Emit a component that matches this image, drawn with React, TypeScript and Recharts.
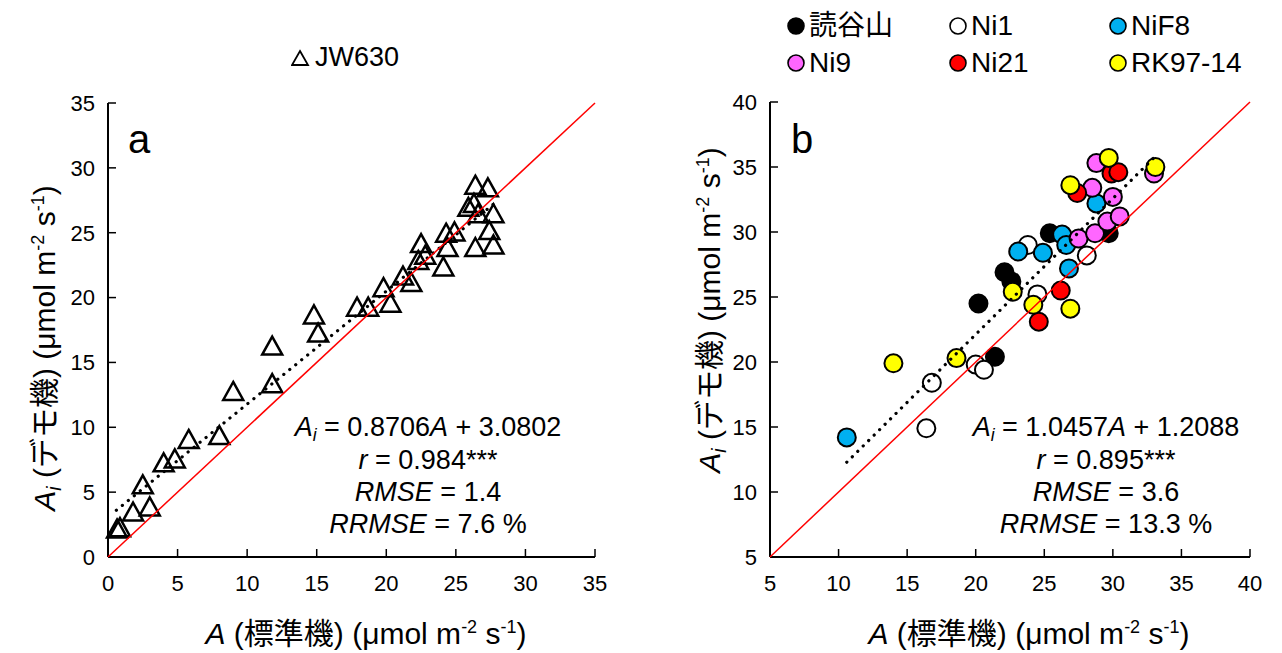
import React from "react";
import { Scatter, ScatterChart, XAxis, YAxis } from "recharts";

const FONT = "Arial, 'Liberation Sans', 'Noto Sans CJK JP', sans-serif";

// panel a: JW630 (標準機 A vs デモ機 Ai)
const jwA = [0.65, 0.86, 1.8, 3.0, 2.5, 4.0, 4.8, 5.8, 8.0, 9.0, 11.8, 11.8, 14.8, 15.1, 17.9, 18.7, 19.8, 20.3, 21.2, 21.8, 22.3, 22.5, 22.8, 24.1, 24.3, 24.9, 24.4, 26.4, 27.4, 27.7, 25.9, 26.3, 26.6, 27.7, 26.4, 27.3];
const jwAi = [2.2, 2.3, 3.5, 3.9, 5.6, 7.3, 7.6, 9.1, 9.4, 12.8, 16.3, 13.4, 18.7, 17.3, 19.3, 19.3, 20.8, 19.6, 21.7, 21.2, 22.9, 24.2, 23.3, 22.4, 25.0, 25.1, 23.9, 23.9, 25.2, 24.1, 27.0, 27.3, 26.5, 26.5, 28.7, 28.5];

// panel b: varieties
const yomitanA = [20.2, 22.1, 22.6, 21.4, 25.4, 29.7];
const yomitanAi = [24.5, 26.9, 26.2, 20.4, 29.9, 29.9];
const ni1A = [16.4, 16.8, 20.0, 20.6, 23.8, 24.5, 28.1];
const ni1Ai = [14.9, 18.4, 19.8, 19.4, 29.0, 25.2, 28.2];
const nif8A = [10.6, 23.1, 24.9, 26.3, 26.6, 26.8, 28.8];
const nif8Ai = [14.2, 28.5, 28.4, 29.8, 29.0, 27.2, 32.2];
const ni9A = [27.5, 28.7, 29.6, 30.5, 30.0, 28.5, 28.8, 33.0];
const ni9Ai = [29.5, 29.9, 30.8, 31.2, 32.7, 33.4, 35.3, 34.5];
const ni21A = [24.6, 26.2, 27.4, 29.9, 30.4];
const ni21Ai = [23.1, 25.5, 33.0, 34.5, 34.6];
const rkA = [14.0, 18.6, 22.7, 24.2, 26.9, 26.9, 29.7, 33.1];
const rkAi = [19.9, 20.3, 25.4, 24.4, 24.1, 33.6, 35.7, 35.0];

const ticksA = [0, 5, 10, 15, 20, 25, 30, 35];
const ticksB = [5, 10, 15, 20, 25, 30, 35, 40];

// regression fits as printed on the chart
const fitA = { slope: 0.8706, intercept: 3.0802, from: 0.6, to: 27.7 };
const fitB = { slope: 1.0457, intercept: 1.2088, from: 10.6, to: 33.1 };

const zip = (xs: number[], ys: number[]) => xs.map((x, i) => ({ x, y: ys[i] }));
const fitLine = (f: typeof fitA) => [f.from, f.to].map((x) => ({ x, y: f.slope * x + f.intercept }));

const seriesB = [
  { name: "読谷山", fill: "#000000", data: zip(yomitanA, yomitanAi) },
  { name: "Ni1", fill: "#ffffff", data: zip(ni1A, ni1Ai) },
  { name: "NiF8", fill: "#00b0f0", data: zip(nif8A, nif8Ai) },
  { name: "Ni9", fill: "#ff66ff", data: zip(ni9A, ni9Ai) },
  { name: "Ni21", fill: "#ff0000", data: zip(ni21A, ni21Ai) },
  { name: "RK97-14", fill: "#ffff00", data: zip(rkA, rkAi) },
];

const Triangle = (props: any) => {
  const { cx, cy } = props;
  const w = 20;
  const h = 18;
  return (
    <polygon
      points={`${cx},${cy - h / 2} ${cx + w / 2},${cy + h / 2} ${cx - w / 2},${cy + h / 2}`}
      fill="none"
      stroke="#000"
      strokeWidth={2.5}
    />
  );
};

const dot = (fill: string) => (props: any) => <circle cx={props.cx} cy={props.cy} r={9} fill={fill} stroke="#000" strokeWidth={2} />;
const none = () => <g />;

const tickStyle = { fill: "#000", fontSize: 22, fontFamily: FONT };
const dotted = { stroke: "#000", strokeWidth: 3.2, strokeDasharray: "0.1 7.6", strokeLinecap: "round" as const };

function Axes({ ticks }: { ticks: number[] }) {
  const domain = [ticks[0], ticks[ticks.length - 1]];
  return (
    <>
      <XAxis type="number" dataKey="x" domain={domain} ticks={ticks} interval={0} height={30} tick={tickStyle}
        axisLine={{ stroke: "#000", strokeWidth: 2 }} tickLine={{ stroke: "#000", strokeWidth: 1.5 }} tickSize={-8} tickMargin={26} />
      <YAxis type="number" dataKey="y" domain={domain} ticks={ticks} interval={0} width={60} tick={tickStyle}
        axisLine={{ stroke: "#000", strokeWidth: 2 }} tickLine={{ stroke: "#000", strokeWidth: 1.5 }} tickSize={-8} tickMargin={21} />
    </>
  );
}

const Txt = ({ x, y, size = 27, rotate = 0, children }: { x: number; y: number; size?: number; rotate?: number; children: React.ReactNode }) => (
  <div
    style={{
      position: "absolute", left: x, top: y, transform: `translate(-50%, -50%) rotate(${rotate}deg)`,
      fontSize: size, fontFamily: FONT, whiteSpace: "nowrap", lineHeight: 1, color: "#000",
    }}
  >
    {children}
  </div>
);

const sup = (t: string) => <sup style={{ fontSize: "0.6em", verticalAlign: "0.6em", lineHeight: 0 }}>{t}</sup>;
const Ai = () => <><i>A</i><sub style={{ fontSize: "0.65em", verticalAlign: "-0.3em", lineHeight: 0 }}><i>i</i></sub></>;
const unit = <>(μmol m{sup("-2")} s{sup("-1")})</>;

function Stats({ x, slope, icpt, r, rmse, rrmse }: { x: number; slope: string; icpt: string; r: string; rmse: string; rrmse: string }) {
  return (
    <>
      <Txt x={x} y={427}><Ai /> = {slope}<i>A</i> + {icpt}</Txt>
      <Txt x={x} y={460}><i>r</i> = {r}***</Txt>
      <Txt x={x} y={492}><i>RMSE</i> = {rmse}</Txt>
      <Txt x={x} y={524}><i>RRMSE</i> = {rrmse} %</Txt>
    </>
  );
}

function LegendItem({ x, y, fill, label }: { x: number; y: number; fill: string; label: string }) {
  return (
    <div style={{ position: "absolute", left: x - 9, top: y - 14, display: "flex", alignItems: "center", fontFamily: FONT, fontSize: 28, lineHeight: 1 }}>
      <svg width={18} height={18} style={{ marginRight: 4 }}>
        <circle cx={9} cy={9} r={8} fill={fill} stroke="#000" strokeWidth={1.6} />
      </svg>
      <span>{label}</span>
    </div>
  );
}

export default function App() {
  const legendCols = [796, 958, 1118];
  const legendRows = [26, 63];
  return (
    <div style={{ position: "absolute", left: 0, top: 0, width: 1282, height: 653, background: "#fff", overflow: "hidden" }}>
      <div style={{ position: "absolute", left: 0, top: 0 }}>
        <ScatterChart width={640} height={653} margin={{ top: 103, right: 45, bottom: 66, left: 48 }}>
          {Axes({ ticks: ticksA })}
          <Scatter data={zip(jwA, jwAi)} shape={Triangle} isAnimationActive={false} />
          <Scatter data={fitLine(fitA)} line={dotted} shape={none} isAnimationActive={false} />
          <Scatter data={[{ x: 0, y: 0 }, { x: 35, y: 35 }]} line={{ stroke: "#ff0000", strokeWidth: 1.5 }} shape={none} isAnimationActive={false} />
        </ScatterChart>
      </div>
      <div style={{ position: "absolute", left: 640, top: 0 }}>
        <ScatterChart width={642} height={653} margin={{ top: 102, right: 32, bottom: 66, left: 70 }}>
          {Axes({ ticks: ticksB })}
          {seriesB.map((s) => (
            <Scatter key={s.name} name={s.name} data={s.data} shape={dot(s.fill)} isAnimationActive={false} />
          ))}
          <Scatter data={fitLine(fitB)} line={dotted} shape={none} isAnimationActive={false} />
          <Scatter data={[{ x: 5, y: 5 }, { x: 40, y: 40 }]} line={{ stroke: "#ff0000", strokeWidth: 1.5 }} shape={none} isAnimationActive={false} />
        </ScatterChart>
      </div>

      {/* panel a overlays */}
      <div style={{ position: "absolute", left: 291, top: 44, display: "flex", alignItems: "center", fontFamily: FONT, fontSize: 27, lineHeight: 1 }}>
        <svg width={20} height={18} style={{ marginRight: 4 }}>
          <polygon points="9,2 17,16 1,16" fill="none" stroke="#000" strokeWidth={1.8} />
        </svg>
        <span>JW630</span>
      </div>
      <Txt x={139} y={139} size={40}>a</Txt>
      <Stats x={428} slope="0.8706" icpt="3.0802" r="0.984" rmse="1.4" rrmse="7.6" />
      <Txt x={366} y={634} size={30}><i>A</i> (標準機) {unit}</Txt>
      <Txt x={45} y={348} size={30} rotate={-90}><Ai /> (デモ機) {unit}</Txt>

      {/* panel b overlays */}
      {seriesB.map((s, i) => (
        <LegendItem key={s.name} x={legendCols[i % 3]} y={legendRows[Math.floor(i / 3)]} fill={s.fill} label={s.name} />
      ))}
      <Txt x={802} y={139} size={40}>b</Txt>
      <Stats x={1106} slope="1.0457" icpt="1.2088" r="0.895" rmse="3.6" rrmse="13.3" />
      <Txt x={1029} y={634} size={30}><i>A</i> (標準機) {unit}</Txt>
      <Txt x={710} y={310} size={30} rotate={-90}><Ai /> (デモ機) {unit}</Txt>
    </div>
  );
}
